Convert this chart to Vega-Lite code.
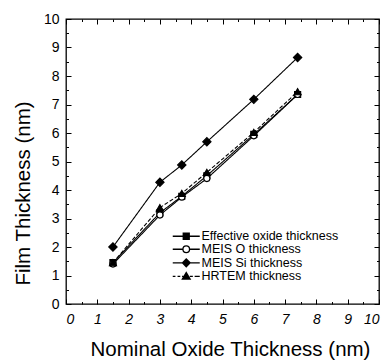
{
  "$schema": "https://vega.github.io/schema/vega-lite/v6.json",
  "width": 313,
  "height": 285,
  "autosize": "none",
  "padding": {"left": 66, "top": 19, "right": 9, "bottom": 59},
  "config": {
    "view": {"stroke": "black", "strokeWidth": 1.3},
    "font": "Liberation Sans",
    "axis": {"domain": false, "grid": false, "tickColor": "black", "labelColor": "black", "titleColor": "black", "tickWidth": 1},
    "legend": {"symbolBaseStrokeColor": "black", "symbolStrokeColor": "black"}
  },
  "data": {
    "values": [
      {"series": "Effective oxide thickness", "nominal": 1.5, "film": 1.45},
      {"series": "Effective oxide thickness", "nominal": 3.0, "film": 3.2},
      {"series": "Effective oxide thickness", "nominal": 3.7, "film": 3.78},
      {"series": "Effective oxide thickness", "nominal": 4.5, "film": 4.5},
      {"series": "Effective oxide thickness", "nominal": 6.0, "film": 5.95},
      {"series": "Effective oxide thickness", "nominal": 7.4, "film": 7.35},
      {"series": "MEIS O thickness", "nominal": 1.5, "film": 1.4},
      {"series": "MEIS O thickness", "nominal": 3.0, "film": 3.12},
      {"series": "MEIS O thickness", "nominal": 3.7, "film": 3.75},
      {"series": "MEIS O thickness", "nominal": 4.5, "film": 4.4},
      {"series": "MEIS O thickness", "nominal": 6.0, "film": 5.9},
      {"series": "MEIS O thickness", "nominal": 7.4, "film": 7.35},
      {"series": "MEIS Si thickness", "nominal": 1.5, "film": 2.0},
      {"series": "MEIS Si thickness", "nominal": 3.0, "film": 4.27},
      {"series": "MEIS Si thickness", "nominal": 3.7, "film": 4.88},
      {"series": "MEIS Si thickness", "nominal": 4.5, "film": 5.69},
      {"series": "MEIS Si thickness", "nominal": 6.0, "film": 7.18},
      {"series": "MEIS Si thickness", "nominal": 7.4, "film": 8.65},
      {"series": "HRTEM thickness", "nominal": 1.5, "film": 1.45},
      {"series": "HRTEM thickness", "nominal": 3.0, "film": 3.38},
      {"series": "HRTEM thickness", "nominal": 3.7, "film": 3.88},
      {"series": "HRTEM thickness", "nominal": 4.5, "film": 4.62},
      {"series": "HRTEM thickness", "nominal": 6.0, "film": 6.02},
      {"series": "HRTEM thickness", "nominal": 7.4, "film": 7.45}
    ]
  },
  "layer": [
    {
      "mark": {"type": "line", "color": "black", "strokeWidth": 1.1},
      "encoding": {
        "x": {
          "field": "nominal", "type": "quantitative",
          "scale": {"domain": [0, 10], "nice": false},
          "axis": {
            "orient": "bottom",
            "values": [0, 0.5, 1, 1.5, 2, 2.5, 3, 3.5, 4, 4.5, 5, 5.5, 6, 6.5, 7, 7.5, 8, 8.5, 9, 9.5, 10],
            "labelExpr": "datum.value % 1 === 0 ? '' + datum.value : ''",
            "tickSize": -5,
            "tickDash": {"condition": {"test": "datum.value % 1 === 0", "value": [10, 1]}, "value": [2.5, 20]},
            "labelPadding": 13,
            "labelFontSize": 14,
            "labelFontStyle": "italic",
            "title": "Nominal Oxide Thickness (nm)",
            "titleFontSize": 20.5,
            "titleFontWeight": "normal",
            "titleX": 164,
            "titleY": 51,
            "titleBaseline": "alphabetic"
          }
        },
        "y": {
          "field": "film", "type": "quantitative",
          "scale": {"domain": [0, 10], "nice": false},
          "axis": {
            "orient": "left",
            "values": [0, 0.5, 1, 1.5, 2, 2.5, 3, 3.5, 4, 4.5, 5, 5.5, 6, 6.5, 7, 7.5, 8, 8.5, 9, 9.5, 10],
            "labelExpr": "datum.value % 1 === 0 ? '' + datum.value : ''",
            "tickSize": -5,
            "tickDash": {"condition": {"test": "datum.value % 1 === 0", "value": [10, 1]}, "value": [2.5, 20]},
            "labelPadding": 12,
            "labelFontSize": 14,
            "title": "Film Thickness (nm)",
            "titleFontSize": 20.5,
            "titleFontWeight": "normal",
            "titleX": -37,
            "titleY": 174,
            "titleBaseline": "alphabetic"
          }
        },
        "detail": {"field": "series"},
        "strokeDash": {
          "condition": {"test": "datum.series === 'HRTEM thickness'", "value": [4, 2]},
          "value": [1, 0]
        }
      }
    },
    {
      "mark": {"type": "point", "filled": true, "stroke": "black", "strokeWidth": 1.1, "opacity": 1},
      "encoding": {
        "x": {
          "field": "nominal", "type": "quantitative",
          "axis": {
            "orient": "top",
            "values": [0, 0.5, 1, 1.5, 2, 2.5, 3, 3.5, 4, 4.5, 5, 5.5, 6, 6.5, 7, 7.5, 8, 8.5, 9, 9.5, 10],
            "labels": false,
            "title": null,
            "tickSize": -5,
            "tickDash": {"condition": {"test": "datum.value % 1 === 0", "value": [10, 1]}, "value": [2.5, 20]}
          }
        },
        "y": {
          "field": "film", "type": "quantitative",
          "axis": {
            "orient": "right",
            "values": [0, 0.5, 1, 1.5, 2, 2.5, 3, 3.5, 4, 4.5, 5, 5.5, 6, 6.5, 7, 7.5, 8, 8.5, 9, 9.5, 10],
            "labels": false,
            "title": null,
            "tickSize": -5,
            "tickDash": {"condition": {"test": "datum.value % 1 === 0", "value": [10, 1]}, "value": [2.5, 20]}
          }
        },
        "shape": {
          "condition": [
            {"test": "datum.series === 'Effective oxide thickness'", "value": "square"},
            {"test": "datum.series === 'MEIS O thickness'", "value": "circle"},
            {"test": "datum.series === 'MEIS Si thickness'", "value": "diamond"}
          ],
          "value": "triangle-up"
        },
        "fill": {
          "condition": {"test": "datum.series === 'MEIS O thickness'", "value": "white"},
          "value": "black"
        },
        "size": {
          "condition": [
            {"test": "datum.series === 'MEIS Si thickness'", "value": 70},
            {"test": "datum.series === 'HRTEM thickness'", "value": 50}
          ],
          "value": 37
        }
      }
    },
    {
      "transform": [{"filter": "false"}],
      "mark": {"type": "point", "filled": false, "opacity": 1},
      "encoding": {
        "x": {"field": "nominal", "type": "quantitative", "axis": null},
        "y": {"field": "film", "type": "quantitative", "axis": null},
        "shape": {
          "field": "series",
          "scale": {
            "domain": ["Effective oxide thickness", "MEIS O thickness", "MEIS Si thickness", "HRTEM thickness"],
            "range": [
              "M-4.5,0H-1M1,0H4.5M-1,-1H1V1H-1ZM-0.6,-0.6H0.6V0.6H-0.6ZM-0.2,-0.2H0.2V0.2H-0.2Z",
              "M-4.5,0H-1.1M1.1,0H4.5M1.1,0A1.1,1.1,0,1,1,-1.1,0A1.1,1.1,0,1,1,1.1,0Z",
              "M-4.5,0H-1.3M1.3,0H4.5M-1.3,0L0,-1.3L1.3,0L0,1.3ZM-0.9,0L0,-0.9L0.9,0L0,0.9ZM-0.5,0L0,-0.5L0.5,0L0,0.5ZM-0.1,0L0,-0.1L0.1,0L0,0.1Z",
              "M-4.5,0H-3.6M-2.9,0H-2M-1.4,0H-1M1.2,0H2.2M2.8,0H4.5M-1.3,0.9L0,-1.3L1.3,0.9ZM-0.85,0.64L0,-0.79L0.85,0.64ZM-0.39,0.39L0,-0.27L0.39,0.39Z"
            ]
          },
          "legend": {
            "orient": "none",
            "legendX": 114,
            "legendY": 211,
            "title": null,
            "padding": 0,
            "labelFontSize": 12.5,
            "labelColor": "black",
            "labelOffset": 9,
            "rowPadding": -0.4,
            "symbolSize": 36,
            "symbolStrokeColor": "black",
            "symbolStrokeWidth": 1.3,
            "symbolOpacity": 1
          }
        }
      }
    }
  ],
  "resolve": {
    "axis": {"x": "independent", "y": "independent"}
  }
}
